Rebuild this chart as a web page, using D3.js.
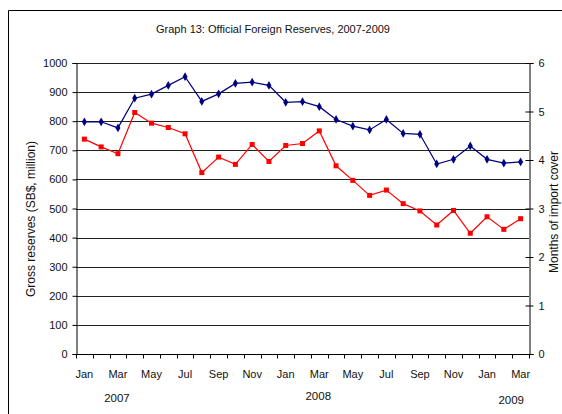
<!DOCTYPE html>
<html>
<head>
<meta charset="utf-8">
<script src="https://cdn.jsdelivr.net/npm/d3@7"></script>
<style>
  html, body { margin: 0; padding: 0; background: #fff; }
  svg { display: block; font-family: "Liberation Sans", Arial, sans-serif; }
</style>
</head>
<body>
<svg id="chart" width="562" height="414"></svg>
<script>
// Monthly observations, Jan 2007 – Mar 2009
const months = ["Jan","Feb","Mar","Apr","May","Jun","Jul","Aug","Sep","Oct","Nov","Dec",
                "Jan","Feb","Mar","Apr","May","Jun","Jul","Aug","Sep","Oct","Nov","Dec",
                "Jan","Feb","Mar"];
const years = ["2007","2008","2009"];
// Gross reserves, SB$ million (left axis)
const grossReserves = [798, 798, 777, 879, 893, 923, 953, 868, 894, 930, 934, 923,
                       865, 867, 850, 806, 783, 770, 806, 758, 755, 653, 669, 715,
                       669, 656, 660];
// Months of import cover (right axis)
const importCover = [4.43, 4.27, 4.13, 4.98, 4.76, 4.67, 4.54, 3.74, 4.06, 3.91, 4.32, 3.97,
                     4.30, 4.34, 4.60, 3.88, 3.58, 3.27, 3.38, 3.10, 2.95, 2.66, 2.96, 2.49,
                     2.83, 2.57, 2.79];
const leftTicks = [0,100,200,300,400,500,600,700,800,900,1000];
const rightTicks = [0,1,2,3,4,5,6];

const svg = d3.select("#chart");
const m = {left: 76, right: 529, top: 63, bottom: 354};

// frame
svg.append("path")
  .attr("d", "M8.5,414V10.5H562")
  .attr("fill", "none").attr("stroke", "#000").attr("stroke-width", 1);

svg.append("text")
  .attr("x", 273).attr("y", 33)
  .attr("text-anchor", "middle")
  .attr("font-size", 11)
  .attr("fill", "#111")
  .text("Graph 13: Official Foreign Reserves, 2007-2009");

const idx = d3.range(months.length);
const x = d3.scaleBand().domain(idx).range([m.left, m.right]);
const cx = i => x(i) + x.bandwidth() / 2;
const yL = d3.scaleLinear().domain([0, 1000]).range([m.bottom, m.top]);
const yR = d3.scaleLinear().domain([0, 6]).range([m.bottom, m.top]);

// horizontal gridlines
svg.append("g").selectAll("line")
  .data(leftTicks.filter(d => d > 0))
  .join("line")
  .attr("x1", m.left).attr("x2", m.right)
  .attr("y1", d => Math.round(yL(d)) + 0.5).attr("y2", d => Math.round(yL(d)) + 0.5)
  .attr("stroke", "#222").attr("stroke-width", 1);

// left axis
const gL = svg.append("g").attr("transform", `translate(${m.left + 0.5},0)`)
  .call(d3.axisLeft(yL).tickValues(leftTicks).tickSize(4).tickPadding(5).tickFormat(d3.format("d")));
// right axis
const gR = svg.append("g").attr("transform", `translate(${m.right + 0.5},0)`)
  .call(d3.axisRight(yR).tickValues(rightTicks).tickSize(4).tickPadding(5).tickFormat(d3.format("d")));
gR.selectAll(".tick line").attr("x1", -4);

// bottom axis: ticks at category boundaries
const gB = svg.append("g").attr("transform", `translate(0,${m.bottom + 0.5})`);
gB.append("line").attr("x1", m.left).attr("x2", m.right).attr("stroke", "#000");
gB.selectAll("line.tk")
  .data(d3.range(months.length + 1))
  .join("line").attr("class", "tk")
  .attr("x1", i => Math.round(m.left + i * x.step()) + 0.5)
  .attr("x2", i => Math.round(m.left + i * x.step()) + 0.5)
  .attr("y1", 0).attr("y2", 4)
  .attr("stroke", "#000");
gB.selectAll("text")
  .data(idx.filter(i => i % 2 === 0))
  .join("text")
  .attr("x", i => cx(i)).attr("y", 23)
  .attr("text-anchor", "middle")
  .attr("font-size", 11).attr("fill", "#111")
  .text(i => months[i]);

[gL, gR].forEach(g => {
  g.select(".domain").attr("stroke", "#000");
  g.selectAll(".tick line").attr("stroke", "#000");
  g.selectAll(".tick text").attr("font-size", 11).attr("fill", "#111")
    .attr("font-family", "Liberation Sans, Arial, sans-serif");
});

// year labels
const yearPos = [{i: 2, y: 402}, {i: 14, y: 400}, {i: 25.5, y: 404}];
svg.append("g").selectAll("text")
  .data(years)
  .join("text")
  .attr("x", (d, k) => m.left + (yearPos[k].i + 0.5) * x.step() - 1)
  .attr("y", (d, k) => yearPos[k].y)
  .attr("text-anchor", "middle")
  .attr("font-size", 11.5).attr("fill", "#111")
  .text(d => d);

// axis titles
svg.append("text")
  .attr("transform", `translate(35,219) rotate(-90)`)
  .attr("text-anchor", "middle").attr("font-size", 12).attr("fill", "#111")
  .text("Gross reserves (SB$, million)");
svg.append("text")
  .attr("transform", `translate(558,212) rotate(-90)`)
  .attr("text-anchor", "middle").attr("font-size", 12).attr("fill", "#111")
  .text("Months of import cover");

// gross reserves series
const lineL = d3.line().x((d, i) => cx(i)).y(d => yL(d));
svg.append("path").datum(grossReserves)
  .attr("d", lineL).attr("fill", "none").attr("stroke", "#000080").attr("stroke-width", 1.2);
svg.append("g").selectAll("path")
  .data(grossReserves)
  .join("path")
  .attr("d", d3.symbol(d3.symbolDiamond, 22))
  .attr("transform", (d, i) => `translate(${cx(i)},${yL(d)})`)
  .attr("fill", "#000080");

// import cover series
const lineR = d3.line().x((d, i) => cx(i)).y(d => yR(d));
svg.append("path").datum(importCover)
  .attr("d", lineR).attr("fill", "none").attr("stroke", "#ff0000").attr("stroke-width", 1.2);
svg.append("g").selectAll("rect")
  .data(importCover)
  .join("rect")
  .attr("x", (d, i) => cx(i) - 2.5).attr("y", d => yR(d) - 2.5)
  .attr("width", 5).attr("height", 5)
  .attr("fill", "#ff0000");
</script>
</body>
</html>
